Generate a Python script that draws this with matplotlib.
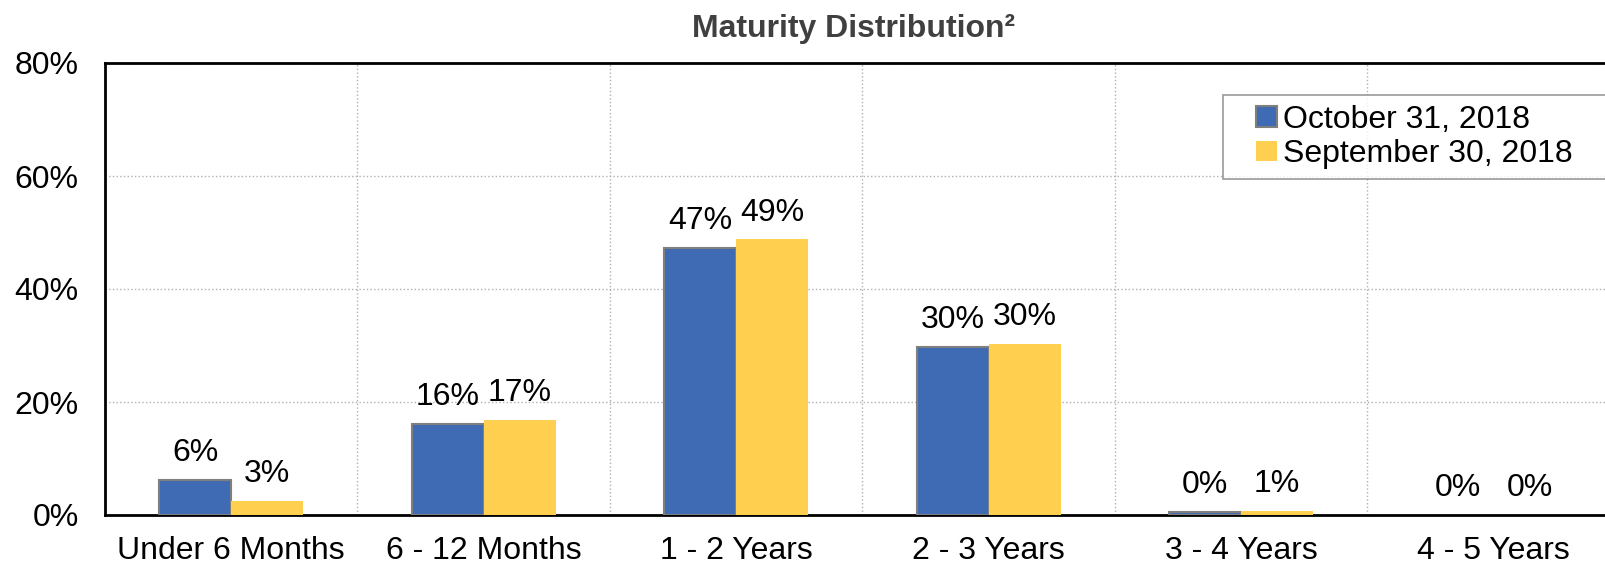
import numpy as np
import matplotlib
matplotlib.use('Agg')
import matplotlib.pyplot as plt
from matplotlib.ticker import FuncFormatter
from matplotlib.patches import Rectangle
from matplotlib.legend_handler import HandlerPatch

plt.rcParams['font.family'] = ['Liberation Sans', 'DejaVu Sans']

categories = ['Under 6 Months', '6 - 12 Months', '1 - 2 Years', '2 - 3 Years',
              '3 - 4 Years', '4 - 5 Years']
oct_vals = [6.2, 16.1, 47.3, 29.8, 0.5, 0.0]
sep_vals = [2.5, 16.9, 48.8, 30.3, 0.7, 0.0]
oct_labels = ['6%', '16%', '47%', '30%', '0%', '0%']
sep_labels = ['3%', '17%', '49%', '30%', '1%', '0%']
series_names = ['October 31, 2018', 'September 30, 2018']

blue = '#3F6BB4'
yellow = '#FFCF50'
fs = 23

fig = plt.figure(figsize=(16.06, 5.67), dpi=100)
ax = fig.add_axes([105/1606, 52/567, 1515/1606, 452/567])

x = np.arange(len(categories))
w = 0.285
b1 = ax.bar(x - w/2, oct_vals, w, color=blue, edgecolor='#7f7f7f',
            linewidth=[1.5 if v > 0 else 0 for v in oct_vals], zorder=3)
b2 = ax.bar(x + w/2, sep_vals, w, color=yellow, linewidth=0, zorder=3)

for xi, v, t in zip(x - w/2, oct_vals, oct_labels):
    ax.annotate(t, (xi, v), xytext=(0, 13.5), textcoords='offset points',
                ha='center', va='baseline', fontsize=fs)
for xi, v, t in zip(x + w/2, sep_vals, sep_labels):
    ax.annotate(t, (xi, v), xytext=(0, 13.5), textcoords='offset points',
                ha='center', va='baseline', fontsize=fs)

ax.set_xlim(-0.5, 5.5)
ax.set_ylim(0, 80)
ax.set_yticks([0, 20, 40, 60, 80])
ax.yaxis.set_major_formatter(FuncFormatter(lambda v, p: '%d%%' % v))
ax.set_xticks(x)
ax.set_xticklabels(categories)
ax.set_xticks(x[:-1] + 0.5, minor=True)
ax.tick_params(axis='both', which='both', length=0, labelsize=fs)
ax.tick_params(axis='x', pad=15)
ax.tick_params(axis='y', pad=19)

ax.grid(axis='y', which='major', linestyle=':', color='#b0b0b0', linewidth=1, zorder=0)
ax.grid(axis='x', which='minor', linestyle=':', color='#b0b0b0', linewidth=1, zorder=0)
ax.grid(axis='x', which='major', visible=False)

for s in ['left', 'bottom', 'top']:
    ax.spines[s].set_linewidth(2)
    ax.spines[s].set_color('black')
ax.spines['right'].set_visible(False)


# small square marker pushed to the right end of the handle area
def square(legend, orig_handle, xdescent, ydescent, width, height, fontsize):
    return Rectangle((-xdescent + width - height, -ydescent), height, height)


leg = ax.legend([b1.patches[0], b2.patches[0]], series_names,
                loc='upper left', bbox_to_anchor=(0.738, 0.5, 0.272, 0.429),
                mode='expand', borderaxespad=0, fontsize=fs, frameon=True,
                fancybox=False, handlelength=1.38, handleheight=0.6,
                handletextpad=0.2, labelspacing=0.15, borderpad=0.3,
                handler_map={Rectangle: HandlerPatch(patch_func=square)})
leg.get_frame().set_edgecolor('#808080')
leg.get_frame().set_linewidth(1.2)

fig.text(854/1606, 1 - 29/567, 'Maturity Distribution²',
         ha='center', va='center', fontsize=23, fontweight='bold', color='#404040')

fig.savefig('out.png', dpi=100)
